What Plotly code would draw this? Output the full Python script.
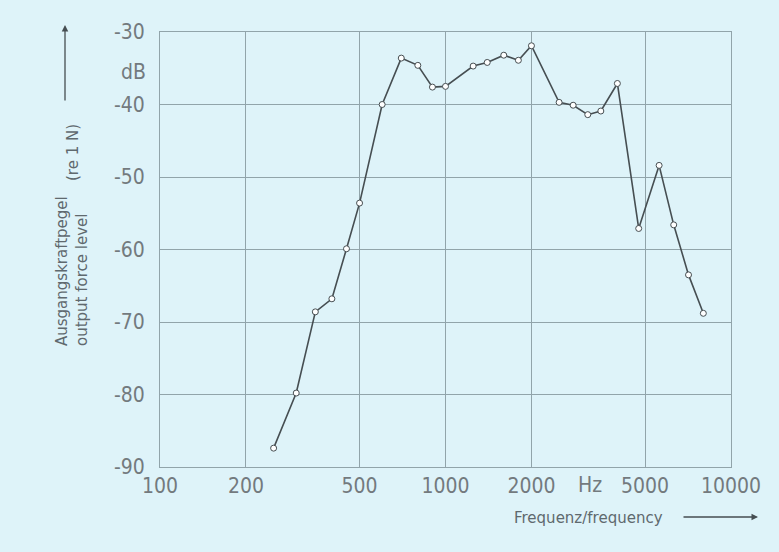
import plotly.graph_objects as go

# Data
freq_hz = [250, 300, 350, 400, 450, 500, 600, 700, 800, 900, 1000, 1250, 1400, 1600,
           1800, 2000, 2500, 2800, 3150, 3500, 4000, 4750, 5600, 6300, 7100, 8000]
level_db = [-87.4, -79.8, -68.6, -66.8, -59.9, -53.6, -40.0, -33.6, -34.6, -37.6, -37.5,
            -34.7, -34.2, -33.2, -33.9, -31.9, -39.7, -40.1, -41.4, -40.9, -37.1,
            -57.1, -48.4, -56.6, -63.5, -68.8]

x_ticks = [100, 200, 500, 1000, 2000, 5000, 10000]
x_ticktext = ["100", "200", "500", "1000", "2000", "5000", "10000"]
y_ticks = [-90, -80, -70, -60, -50, -40, -30]
y_ticktext = ["-90", "-80", "-70", "-60", "-50", "-40", "-30"]

BG = "rgb(222,243,249)"
GRID = "rgb(145,164,170)"
LINE = "rgb(70,78,82)"
TXT = "rgb(95,105,110)"
TICKFONT = dict(family="DejaVu Sans Condensed, Roboto Condensed, Liberation Sans Narrow, Roboto",
                size=21, color="rgb(115,122,126)")
LABELFONT = dict(family="DejaVu Sans", size=15, color=TXT)

W, H = 779, 552
L, R, T, B = 160, 48, 32, 85
PW, PH = W - L - R, H - T - B


def px(xp):
    return (xp - L) / PW


def py(yp):
    return (H - B - yp) / PH


fig = go.Figure()
fig.add_trace(go.Scatter(
    x=freq_hz, y=level_db, mode="lines+markers",
    line=dict(color=LINE, width=1.6),
    marker=dict(symbol="circle", size=6, color="white", line=dict(color=LINE, width=1)),
    showlegend=False, hoverinfo="skip",
))

fig.update_layout(
    width=W, height=H,
    margin=dict(l=L, r=R, t=T, b=B),
    paper_bgcolor=BG, plot_bgcolor=BG,
    xaxis=dict(type="log", range=[2, 4], tickvals=x_ticks, ticktext=x_ticktext,
               showgrid=True, gridcolor=GRID, gridwidth=1, zeroline=False,
               showline=True, linecolor=GRID, linewidth=1, mirror=True,
               ticks="", tickfont=TICKFONT, ticklabelstandoff=0),
    yaxis=dict(range=[-90, -30], tickvals=y_ticks, ticktext=y_ticktext,
               showgrid=True, gridcolor=GRID, gridwidth=1, zeroline=False,
               showline=True, linecolor=GRID, linewidth=1, mirror=True,
               ticks="", tickfont=TICKFONT, ticklabelstandoff=10),
    annotations=[
        dict(text="dB", xref="paper", yref="y", x=px(148), y=-35.5, xanchor="right",
             yanchor="middle", showarrow=False, font=TICKFONT),
        dict(text="Hz", xref="paper", yref="paper", x=px(590), y=py(485), xanchor="center",
             yanchor="middle", showarrow=False, font=TICKFONT),
        dict(text="Frequenz/frequency", xref="paper", yref="paper", x=px(588), y=py(518),
             xanchor="center", yanchor="middle", showarrow=False, font=LABELFONT),
        dict(text="", xref="paper", yref="paper", x=px(758), y=py(517), ax=-76, ay=0,
             showarrow=True, arrowhead=2, arrowsize=1, arrowwidth=1.3, arrowcolor=LINE),
        dict(text="Ausgangskraftpegel<br>output force level", xref="paper", yref="paper",
             x=px(72), y=py(348), xanchor="center", yanchor="bottom", align="left",
             textangle=-90, showarrow=False, font=LABELFONT),
        dict(text="(re 1 N)", xref="paper", yref="paper", x=px(73), y=py(153),
             xanchor="center", yanchor="middle", textangle=-90, showarrow=False,
             font=LABELFONT),
        dict(text="", xref="paper", yref="paper", x=px(65), y=py(25), ax=0, ay=77,
             showarrow=True, arrowhead=2, arrowsize=1, arrowwidth=1.3, arrowcolor=LINE),
    ],
)

fig.write_html(
    "out.html",
    config={"displayModeBar": False},
    post_script="document.body.style.margin='0';document.body.style.background='" + BG + "';",
)
